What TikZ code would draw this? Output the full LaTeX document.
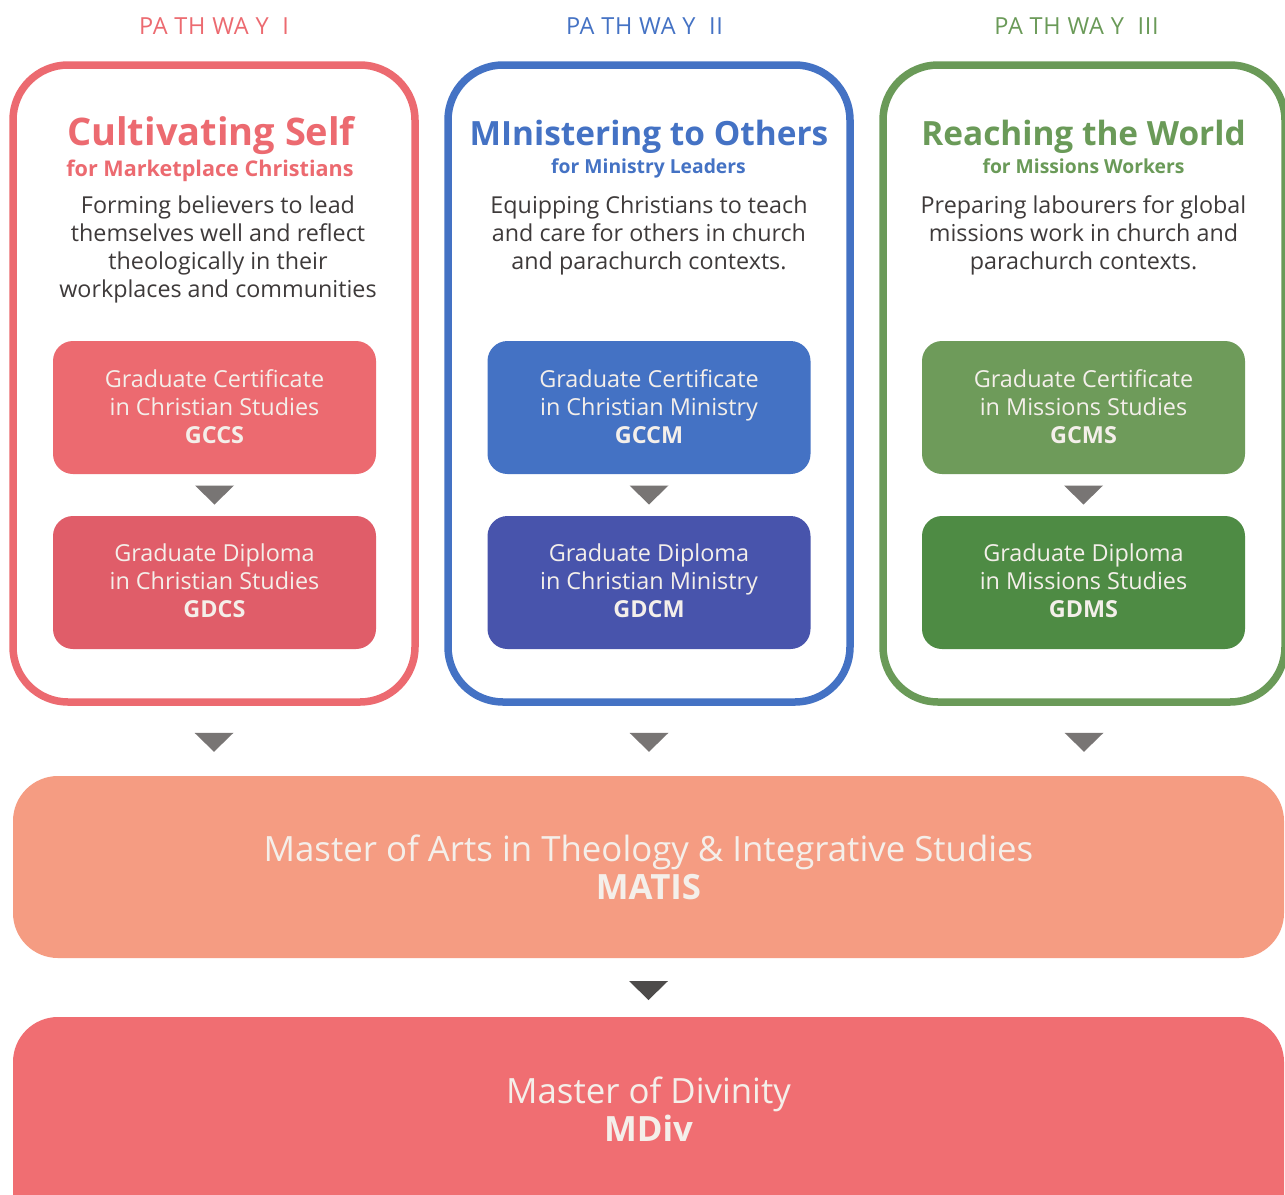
\documentclass[tikz,border=0pt]{standalone}
\usepackage{fontspec}
\setmainfont{Open Sans}
\usetikzlibrary{calc}
\definecolor{pred}{HTML}{EC6A70}
\definecolor{pblue}{HTML}{4472C4}
\definecolor{pgreen}{HTML}{6A9A58}
\definecolor{gcred}{HTML}{EC6A70}
\definecolor{gdred}{HTML}{E05D69}
\definecolor{gcblue}{HTML}{4472C4}
\definecolor{gdblue}{HTML}{4854AC}
\definecolor{gcgreen}{HTML}{6E9B5A}
\definecolor{gdgreen}{HTML}{4E8B44}
\definecolor{desctxt}{HTML}{3E3A3A}
\definecolor{boxtxt}{HTML}{F4EFEA}
\definecolor{matis}{HTML}{F59C82}
\definecolor{mdiv}{HTML}{F06E72}
\definecolor{arrgray}{HTML}{787574}
\definecolor{arrdark}{HTML}{4D4B4A}
\tikzset{
  outerbox/.style={draw, line width=7.5, rounded corners=55, minimum width=402, minimum height=637, fill=white},
  pwlabel/.style={anchor=base, font=\fontsize{23.5}{26}\selectfont\addfontfeatures{LetterSpace=3}},
  ptitle/.style={anchor=base, font=\fontsize{33.4}{40}\selectfont\bfseries},
  psub/.style={anchor=base, font=\fontsize{19.3}{22}\selectfont\bfseries},
  pdesc/.style={anchor=base, align=center, text=desctxt, font=\fontsize{23.3}{28}\selectfont, inner sep=0},
  progbox/.style={rounded corners=20, minimum width=323, minimum height=133},
  progtxt/.style={anchor=base, align=center, text=boxtxt, font=\fontsize{23.4}{28}\selectfont, inner sep=0},
  bigbox/.style={rounded corners=45, minimum width=1271},
  bigtxt/.style={anchor=base, align=center, text=boxtxt, font=\fontsize{34.8}{38}\selectfont, inner sep=0},
  tri/.style={fill=arrgray}
}
\begin{document}
\begin{tikzpicture}[x=1pt,y=-1pt]
\useasboundingbox (0,0) rectangle (1285,1194);
\fill[white] (0,0) rectangle (1285,1194);

% pathway labels
\node[pwlabel, text=pred]   (l1) at (214,34) {PA TH WA Y\ \ I};
\node[pwlabel, text=pblue]  (l2) at (644.5,34) {PA TH WA Y\ \ II};
\node[pwlabel, text=pgreen] (l3) at (1076.5,34) {PA TH WA Y\ \ III};

% outer boxes
\node[outerbox, draw=pred]   (p1) at (214,383.5) {};
\node[outerbox, draw=pblue]  (p2) at (649,383.5) {};
\node[outerbox, draw=pgreen] (p3) at (1084,383.5) {};

% titles
\node[ptitle, text=pred, font=\fontsize{38}{42}\selectfont\bfseries] (t1) at (211,145) {Cultivating Self};
\node[ptitle, text=pblue]  (t2) at (649,145.5) {MInistering to Others};
\node[ptitle, text=pgreen] (t3) at (1083.5,145.5) {Reaching the World};
\node[psub, text=pred, font=\fontsize{21.6}{24}\selectfont\bfseries] (s1) at (210,176) {for Marketplace Christians};
\node[psub, text=pblue]  (s2) at (648.5,173) {for Ministry Leaders};
\node[psub, text=pgreen] (s3) at (1083.5,173) {for Missions Workers};

% descriptions (base = last line)
\node[pdesc] (d1) at (218,297) {Forming believers to lead\\themselves well and reflect\\theologically in their\\workplaces and communities};
\node[pdesc] (d2) at (649,269) {Equipping Christians to teach\\and care for others in church\\and parachurch contexts.};
\node[pdesc] (d3) at (1083.5,269) {Preparing labourers for global\\missions work in church and\\parachurch contexts.};

% programme boxes
\node[progbox, fill=gcred]   (gc1) at (214.5,407.5) {};
\node[progbox, fill=gdred]   (gd1) at (214.5,582.5) {};
\node[progbox, fill=gcblue]  (gc2) at (649,407.5) {};
\node[progbox, fill=gdblue]  (gd2) at (649,582.5) {};
\node[progbox, fill=gcgreen] (gc3) at (1083.5,407.5) {};
\node[progbox, fill=gdgreen] (gd3) at (1083.5,582.5) {};

\node[progtxt] (gct1) at (214.5,443) {Graduate Certificate\\in Christian Studies\\\textbf{GCCS}};
\node[progtxt] (gdt1) at (214.5,617) {Graduate Diploma\\in Christian Studies\\\textbf{GDCS}};
\node[progtxt] (gct2) at (649,443) {Graduate Certificate\\in Christian Ministry\\\textbf{GCCM}};
\node[progtxt] (gdt2) at (649,617) {Graduate Diploma\\in Christian Ministry\\\textbf{GDCM}};
\node[progtxt] (gct3) at (1083.5,443) {Graduate Certificate\\in Missions Studies\\\textbf{GCMS}};
\node[progtxt] (gdt3) at (1083.5,617) {Graduate Diploma\\in Missions Studies\\\textbf{GDMS}};

% big boxes
\node[bigbox, fill=matis, minimum height=182] (ma) at (648.5,867) {};
\node[bigbox, fill=mdiv, minimum height=240] (md) at (648.5,1137) {};
\node[bigtxt] (mat) at (648.5,899) {Master of Arts in Theology \& Integrative Studies\\\textbf{MATIS}};
\node[bigtxt] (mdt) at (648.5,1141) {Master of Divinity\\\textbf{MDiv}};

% triangles (connectors)
\foreach \a/\b in {gc1/gd1, gc2/gd2, gc3/gd3}{
  \fill[tri] ($(\a.south)!0.5!(\b.north)$) +(-19.5,-9.5) -- +(19.5,-9.5) -- +(0,9.5) -- cycle;
}
\foreach \a in {p1,p2,p3}{
  \fill[tri] ($(\a.south)!0.5!(\a.south |- ma.north)$) +(-19.5,-8) -- +(19.5,-8) -- +(0,11) -- cycle;
}
\fill[tri, fill=arrdark] ($(ma.south)!0.5!(md.north)$) +(-19.5,-6.5) -- +(19.5,-6.5) -- +(0,12.5) -- cycle;
\end{tikzpicture}
\end{document}
